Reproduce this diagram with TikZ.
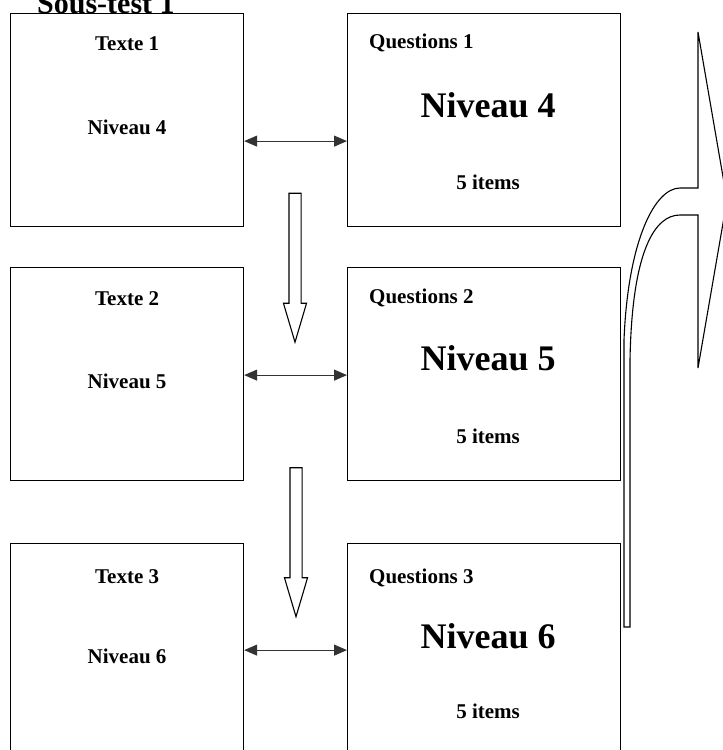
\documentclass[tikz,border=0pt]{standalone}
\usepackage{fontspec}
\setmainfont{Liberation Serif}
\usetikzlibrary{arrows.meta,shapes.arrows,positioning}

\begin{document}
\begin{tikzpicture}[x=1pt,y=-1pt,
  bx/.style={draw,line width=1.2pt,anchor=north west,minimum height=213pt,inner sep=0},
  lbox/.style={bx,minimum width=233pt},
  qbox/.style={bx,minimum width=273pt},
  sm/.style={font=\fontsize{21}{24}\selectfont\bfseries,anchor=base,inner sep=0},
  qt/.style={sm,anchor=base west},
  bg/.style={font=\fontsize{36}{40}\selectfont\bfseries,anchor=base,inner sep=0},
  lnk/.style={{Triangle[length=13pt,width=11pt]}-{Triangle[length=13pt,width=11pt]},line width=1.1pt,black!80},
  dwn/.style={draw,line width=1.1pt,single arrow,rotate=-90,single arrow tip angle=33,
    single arrow head extend=5.5pt,inner sep=5.5pt,minimum height=149pt}]
\clip (0,0) rectangle (723,750);
\node[font=\fontsize{30}{32}\selectfont\bfseries,anchor=base west,inner sep=0] (titre) at (37,13) {Sous-test 1};
\node[lbox] (t1) at (10,13) {};
\node[lbox] (t2) at (10,267) {};
\node[lbox] (t3) at (10,543) {};
\node[qbox] (q1) at (347,13) {};
\node[qbox] (q2) at (347,267) {};
\node[qbox] (q3) at (347,543) {};
\node[sm] (t1a) at ([yshift=-37pt]t1.north) {Texte 1};
\node[sm] (t1b) at ([yshift=-121pt]t1.north) {Niveau 4};
\node[sm] (t2a) at ([yshift=-38pt]t2.north) {Texte 2};
\node[sm] (t2b) at ([yshift=-121pt]t2.north) {Niveau 5};
\node[sm] (t3a) at ([yshift=-40pt]t3.north) {Texte 3};
\node[sm] (t3b) at ([yshift=-120pt]t3.north) {Niveau 6};
\node[qt] (q1a) at ([xshift=22pt,yshift=-35pt]q1.north west) {Questions 1};
\node[bg] (q1b) at ([xshift=4pt,yshift=-104pt]q1.north) {Niveau 4};
\node[sm] (q1c) at ([xshift=4pt,yshift=-176pt]q1.north) {5 items};
\node[qt] (q2a) at ([xshift=22pt,yshift=-36pt]q2.north west) {Questions 2};
\node[bg] (q2b) at ([xshift=4pt,yshift=-103pt]q2.north) {Niveau 5};
\node[sm] (q2c) at ([xshift=4pt,yshift=-176pt]q2.north) {5 items};
\node[qt] (q3a) at ([xshift=22pt,yshift=-40pt]q3.north west) {Questions 3};
\node[bg] (q3b) at ([xshift=4pt,yshift=-105pt]q3.north) {Niveau 6};
\node[sm] (q3c) at ([xshift=4pt,yshift=-175pt]q3.north) {5 items};
\draw[lnk] ([yshift=-21pt]t1.east) -- ([yshift=-21pt]q1.west);
\draw[lnk] ([yshift=-1pt]t2.east) -- ([yshift=-1pt]q2.west);
\draw[lnk] (t3.east) -- (q3.west);
\node[dwn] (d1) at (295,257.5) {};
\node[dwn] (d2) at (296,532) {};
\draw[line width=1.1pt,line join=miter] (624,627) -- (624,340)
  .. controls (628,240) and (655,188) .. (680,188) -- (698,188) -- (698,32) -- (727,200)
  -- (698,368) -- (698,215) -- (680,215)
  .. controls (655,215) and (632,250) .. (630,360) -- (630,627) -- cycle;
\end{tikzpicture}
\end{document}
